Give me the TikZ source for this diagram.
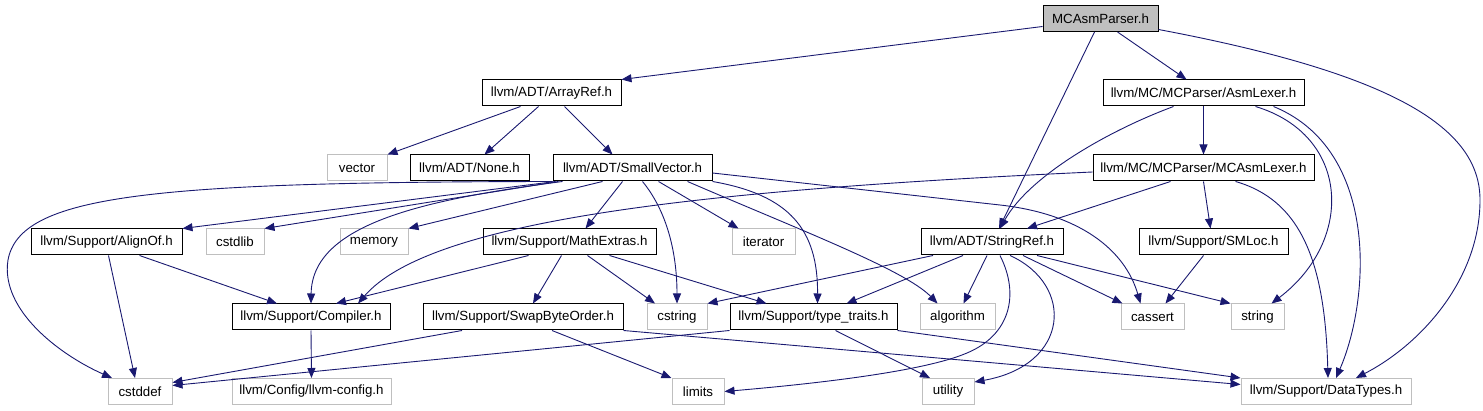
\documentclass[tikz,border=0pt]{standalone}
\usepackage{fontspec}
\setmainfont{Liberation Sans}
\usetikzlibrary{arrows.meta}
\definecolor{edgeblue}{RGB}{25,25,112}
\definecolor{sysgray}{RGB}{191,191,191}

\begin{document}
\begin{tikzpicture}[x=1pt,y=-1pt,
  font=\fontsize{13.3}{15}\selectfont,
  hdr/.style={draw=black,fill=white,line width=1pt,minimum height=26pt,inner xsep=3pt,inner ysep=0pt},
  syshdr/.style={hdr,draw=sysgray},
  mainfile/.style={hdr,fill=sysgray},
  dep/.style={draw=edgeblue,line width=0.9pt,-{Triangle[length=10pt,width=8pt]}}]
  \useasboundingbox (0,0) rectangle (1483,411);
  % header files
  \node[mainfile,minimum width=115pt] (parser) at (1100.5,18.5) {MCAsmParser.h};
  \node[hdr,minimum width=139pt] (arrayref) at (551.5,93) {llvm/ADT/ArrayRef.h};
  \node[hdr,minimum width=201pt] (asmlexer) at (1203.5,93) {llvm/MC/MCParser/AsmLexer.h};
  \node[syshdr,minimum width=60pt] (vector) at (357,168) {vector};
  \node[hdr,minimum width=119pt] (adtnone) at (469.5,168) {llvm/ADT/None.h};
  \node[hdr,minimum width=159pt] (smallvec) at (632.5,168) {llvm/ADT/SmallVector.h};
  \node[hdr,minimum width=221pt] (mcasmlexer) at (1203.5,168) {llvm/MC/MCParser/MCAsmLexer.h};
  \node[hdr,minimum width=151pt] (alignof) at (106.5,242) {llvm/Support/AlignOf.h};
  \node[syshdr,minimum width=58pt] (cstdlib) at (235,242) {cstdlib};
  \node[syshdr,minimum width=68pt] (memory) at (374,242) {memory};
  \node[hdr,minimum width=173pt] (mathextras) at (569.5,242) {llvm/Support/MathExtras.h};
  \node[syshdr,minimum width=63pt] (iterator) at (763.5,242) {iterator};
  \node[hdr,minimum width=142pt] (stringref) at (992,242) {llvm/ADT/StringRef.h};
  \node[hdr,minimum width=149pt] (smloc) at (1213.5,242) {llvm/Support/SMLoc.h};
  \node[hdr,minimum width=158pt] (compiler) at (311,317) {llvm/Support/Compiler.h};
  \node[hdr,minimum width=200pt] (swapbyte) at (523,317) {llvm/Support/SwapByteOrder.h};
  \node[syshdr,minimum width=60pt] (cstring) at (677,317) {cstring};
  \node[hdr,minimum width=167pt] (typetraits) at (813.5,317) {llvm/Support/type\_traits.h};
  \node[syshdr,minimum width=75pt] (algorithm) at (957.5,317) {algorithm};
  \node[syshdr,minimum width=63pt] (cassert) at (1152.5,317) {cassert};
  \node[syshdr,minimum width=53pt] (string) at (1257.5,317) {string};
  \node[syshdr,minimum width=64pt] (cstddef) at (140,391.5) {cstddef};
  \node[syshdr,minimum width=159pt] (llvmconfig) at (311.5,391.5) {llvm/Config/llvm-config.h};
  \node[syshdr,minimum width=52pt] (limits) at (698,391.5) {limits};
  \node[syshdr,minimum width=52pt] (utility) at (948,391.5) {utility};
  \node[syshdr,minimum width=170pt] (datatypes) at (1326,391.5) {llvm/Support/DataTypes.h};
  % MCAsmParser.h
  \draw[dep] ([yshift=-8pt]parser.west) -- (arrayref.north east);
  \draw[dep] ([xshift=-6pt]parser.south) -- ([xshift=7pt]stringref.north);
  \draw[dep] ([xshift=17pt]parser.south) -- ([xshift=-17pt]asmlexer.north);
  \draw[dep] ([yshift=-11pt]parser.east) .. controls (1400,75) and (1480,130) .. (1480,200)
    .. controls (1480,280) and (1420,345) .. ([xshift=30pt]datatypes.north);
  % ArrayRef.h
  \draw[dep] ([xshift=-31pt]arrayref.south) -- (vector.north east);
  \draw[dep] ([xshift=-13pt]arrayref.south) -- ([xshift=15pt]adtnone.north);
  \draw[dep] ([xshift=13pt]arrayref.south) -- ([xshift=-20pt]smallvec.north);
  % AsmLexer.h
  \draw[dep] ([xshift=-30pt]asmlexer.south) .. controls (1110,130) and (1030,175) .. ([xshift=8pt]stringref.north);
  \draw[dep] (asmlexer.south) -- (mcasmlexer.north);
  \draw[dep] ([xshift=52pt]asmlexer.south) .. controls (1350,135) and (1355,240) .. ([xshift=14pt]string.north);
  \draw[dep] ([xshift=70pt]asmlexer.south) .. controls (1380,150) and (1370,300) .. ([xshift=10pt]datatypes.north);
  % SmallVector.h
  \draw[dep] (smallvec.south west) .. controls (150,182) and (20,195) .. (8,260)
    .. controls (0,310) and (60,355) .. ([xshift=-28pt]cstddef.north);
  \draw[dep] ([xshift=3pt]smallvec.south west) -- (alignof.north east);
  \draw[dep] ([xshift=6pt]smallvec.south west) -- (cstdlib.north east);
  \draw[dep] ([xshift=10pt]smallvec.south west) .. controls (420,200) and (312,225) .. (compiler.north);
  \draw[dep] ([xshift=-30pt]smallvec.south) -- (memory.north east);
  \draw[dep] ([xshift=-10pt]smallvec.south) -- ([xshift=16pt]mathextras.north);
  \draw[dep] ([xshift=10pt]smallvec.south) .. controls (670,215) and (677,260) .. (cstring.north);
  \draw[dep] ([xshift=26pt]smallvec.south) -- ([xshift=-25pt]iterator.north);
  \draw[dep] (smallvec.south east) .. controls (790,195) and (818,230) .. ([xshift=4pt]typetraits.north);
  \draw[dep] ([xshift=55pt]smallvec.south) .. controls (800,230) and (905,270) .. ([xshift=-20pt]algorithm.north);
  \draw[dep] ([yshift=-5pt]smallvec.east) -- (1000,205)
    .. controls (1080,214) and (1125,250) .. ([xshift=-12pt]cassert.north);
  % MCAsmLexer.h
  \draw[dep] ([yshift=-4pt]mcasmlexer.west) .. controls (700,190) and (430,220) .. ([xshift=47pt]compiler.north);
  \draw[dep] ([xshift=-33pt]mcasmlexer.south) -- ([xshift=35pt]stringref.north);
  \draw[dep] (mcasmlexer.south) -- ([xshift=-3pt]smloc.north);
  \draw[dep] ([xshift=32pt]mcasmlexer.south) .. controls (1300,200) and (1325,260) .. ([xshift=2pt]datatypes.north);
  % AlignOf.h, MathExtras.h
  \draw[dep] ([xshift=2pt]alignof.south) -- ([xshift=-5pt]cstddef.north);
  \draw[dep] ([xshift=33pt]alignof.south) -- ([xshift=-34pt]compiler.north);
  \draw[dep] ([xshift=-41pt]mathextras.south) -- ([xshift=25pt]compiler.north);
  \draw[dep] ([xshift=-8pt]mathextras.south) -- ([xshift=10pt]swapbyte.north);
  \draw[dep] ([xshift=18pt]mathextras.south) -- ([xshift=-22pt]cstring.north);
  \draw[dep] ([xshift=40pt]mathextras.south) -- ([xshift=-47pt]typetraits.north);
  % StringRef.h
  \draw[dep] ([xshift=-59pt]stringref.south) -- (cstring.north east);
  \draw[dep] ([xshift=-29pt]stringref.south) -- ([xshift=33pt]typetraits.north);
  \draw[dep] ([xshift=-5pt]stringref.south) -- ([xshift=6pt]algorithm.north);
  \draw[dep] ([xshift=8pt]stringref.south) .. controls (1020,295) and (1010,335) .. (967,353)
    .. controls (920,373) and (800,385) .. (limits.east);
  \draw[dep] ([xshift=18pt]stringref.south) .. controls (1075,285) and (1070,365) .. ([yshift=-4pt]utility.north east);
  \draw[dep] ([xshift=31pt]stringref.south) -- ([xshift=-30pt]cassert.north);
  \draw[dep] ([xshift=45pt]stringref.south) -- (string.north west);
  \draw[dep] ([xshift=-10pt]smloc.south) -- ([xshift=13pt]cassert.north);
  % bottom row
  \draw[dep] (compiler.south) -- (llvmconfig.north);
  \draw[dep] ([xshift=-61pt]swapbyte.south) -- ([yshift=9pt]cstddef.east);
  \draw[dep] ([xshift=29pt]swapbyte.south) -- (limits.north west);
  \draw[dep] (swapbyte.south east) -- ([yshift=7pt]datatypes.west);
  \draw[dep] (typetraits.south west) -- ([yshift=6pt]cstddef.east);
  \draw[dep] ([xshift=22pt]typetraits.south) -- ([xshift=-18pt]utility.north);
  \draw[dep] (typetraits.south east) -- (datatypes.north west);
\end{tikzpicture}
\end{document}
